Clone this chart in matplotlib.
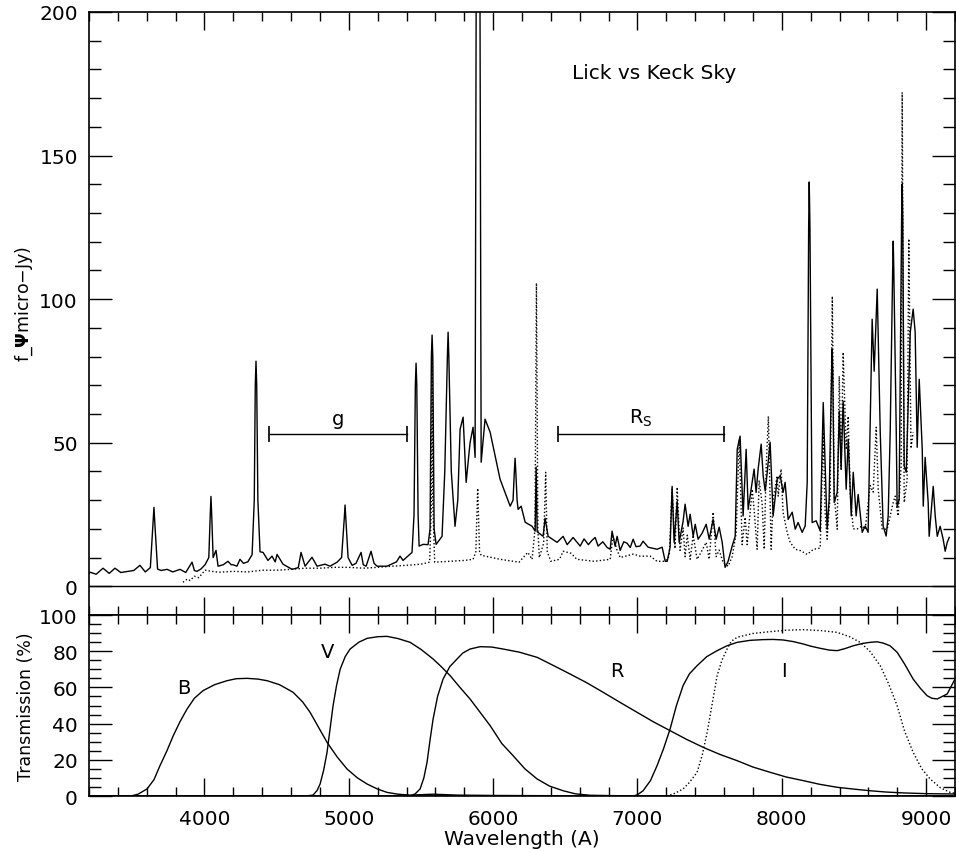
import numpy as np
from matplotlib import pyplot as plt
from matplotlib.ticker import MultipleLocator

plt.rcParams['font.family'] = ['DejaVu Sans']

# Lick sky spectrum (solid), wavelength in A, flux in micro-Jy
lick_wave = [3200, 3207, 3250, 3297, 3340, 3380, 3420, 3470, 3510, 3553, 3590, 3625, 3644, 3650,
             3656, 3675, 3700, 3741, 3780, 3831, 3870, 3914, 3930, 3948, 3975, 4004, 4030, 4040,
             4045, 4050, 4060, 4080, 4094, 4130, 4163, 4185, 4198, 4225, 4246, 4270, 4300, 4330,
             4345, 4352, 4357, 4362, 4370, 4385, 4406, 4440, 4468, 4490, 4503, 4544, 4607, 4650,
             4669, 4697, 4745, 4780, 4835, 4870, 4919, 4950, 4969, 4974, 4979, 4995, 5023, 5050,
             5085, 5100, 5120, 5154, 5175, 5196, 5265, 5330, 5355, 5376, 5438, 5452, 5461, 5466,
             5471, 5480, 5487, 5515, 5549, 5563, 5572, 5577, 5582, 5591, 5605, 5646, 5665, 5683,
             5688, 5693, 5710, 5736, 5755, 5771, 5792, 5813, 5840, 5861, 5875, 5885, 5906, 5917,
             5944, 5979, 6048, 6118, 6138, 6147, 6152, 6157, 6166, 6173, 6194, 6222, 6270, 6291,
             6298, 6305, 6346, 6360, 6381, 6443, 6485, 6513, 6554, 6603, 6630, 6660, 6685, 6707,
             6727, 6760, 6790, 6811, 6824, 6845, 6859, 6880, 6905, 6928, 6950, 6970, 6990, 7018,
             7039, 7074, 7136, 7171, 7192, 7206, 7226, 7240, 7254, 7275, 7289, 7316, 7330, 7351,
             7365, 7386, 7400, 7420, 7448, 7476, 7497, 7524, 7545, 7566, 7587, 7607, 7628, 7656,
             7677, 7691, 7711, 7732, 7753, 7767, 7795, 7808, 7822, 7836, 7857, 7871, 7885, 7899,
             7919, 7940, 7968, 7989, 8009, 8023, 8044, 8072, 8093, 8113, 8141, 8162, 8176, 8186,
             8190, 8195, 8210, 8238, 8266, 8287, 8314, 8328, 8345, 8349, 8353, 8363, 8384, 8398,
             8411, 8425, 8446, 8460, 8481, 8495, 8515, 8529, 8557, 8578, 8598, 8626, 8640, 8661,
             8682, 8702, 8723, 8737, 8751, 8768, 8772, 8776, 8793, 8799, 8813, 8830, 8834, 8838,
             8848, 8862, 8890, 8910, 8924, 8938, 8952, 8973, 8980, 8993, 9014, 9021, 9049, 9063,
             9077, 9097, 9118, 9132, 9146, 9160]
lick_flux = [4.5, 4.9, 4.2, 6.3, 4.5, 6.3, 4.8, 5.2, 5.5, 7.3, 5.0, 6.5, 22.0, 27.5,
             22.0, 6.0, 5.5, 5.9, 5.0, 5.9, 4.8, 8.4, 5.5, 5.2, 6.0, 7.5, 10.0, 25.0,
             31.3, 25.0, 10.0, 12.5, 7.0, 7.5, 8.7, 7.5, 7.5, 7.0, 9.4, 8.0, 8.5, 11.0,
             30.0, 70.0, 78.4, 70.0, 30.0, 12.0, 11.8, 9.0, 10.5, 8.5, 11.1, 7.7, 5.9, 6.5,
             11.8, 7.0, 10.1, 7.0, 7.7, 7.0, 8.4, 10.0, 24.0, 28.3, 24.0, 10.0, 7.3, 8.0,
             11.8, 7.5, 7.0, 12.2, 8.0, 7.0, 7.0, 8.5, 10.5, 9.0, 11.8, 25.0, 70.0, 77.7,
             70.0, 25.0, 14.0, 14.6, 14.5, 20.0, 80.0, 87.5, 80.0, 20.0, 14.6, 17.4, 40.0, 80.0,
             88.5, 80.0, 40.0, 20.9, 30.0, 54.7, 58.9, 36.2, 50.0, 55.4, 44.9, 260.0, 260.0, 43.2,
             58.2, 53.7, 37.3, 27.9, 30.0, 40.0, 44.6, 40.0, 30.0, 26.8, 27.9, 22.3, 20.9, 19.2,
             41.5, 19.0, 17.4, 23.7, 17.4, 15.3, 17.4, 14.5, 17.0, 14.0, 16.5, 14.5, 16.0, 17.0,
             14.0, 15.5, 13.5, 12.9, 19.2, 14.0, 17.4, 12.5, 15.5, 15.0, 13.5, 16.4, 13.8, 14.0,
             15.7, 13.6, 12.9, 13.6, 8.7, 8.7, 13.6, 34.8, 15.3, 29.6, 15.3, 22.6, 28.6, 20.9,
             25.1, 17.4, 21.6, 16.4, 18.5, 21.6, 16.4, 23.3, 16.4, 20.6, 15.3, 6.6, 8.7, 14.0,
             17.4, 47.7, 52.3, 24.5, 47.7, 26.8, 36.2, 40.8, 32.7, 40.8, 49.5, 38.4, 33.2, 39.7,
             50.2, 24.5, 37.3, 38.5, 32.7, 36.2, 23.3, 25.8, 19.9, 22.2, 18.8, 21.0, 36.2, 125.0,
             140.8, 125.0, 22.2, 22.8, 19.3, 64.0, 19.9, 30.3, 75.0, 82.6, 75.0, 29.2, 32.7, 61.0,
             40.8, 64.5, 33.8, 51.2, 24.5, 39.7, 24.5, 32.0, 18.8, 21.0, 18.8, 93.0, 74.9, 103.5,
             53.6, 21.0, 17.5, 24.5, 53.6, 110.0, 120.2, 110.0, 53.6, 27.5, 30.3, 128.0, 140.1, 128.0,
             41.9, 39.7, 88.5, 96.5, 88.5, 48.4, 72.1, 47.7, 27.9, 44.9, 29.3, 17.4, 34.8, 24.4,
             17.4, 20.9, 16.4, 12.2, 15.3, 17.0]

# Keck sky spectrum (dotted)
keck_wave = [3851, 3880, 3900, 3930, 3960, 4004, 4050, 4100, 4200, 4300, 4400, 4500, 4600, 4700,
             4800, 4900, 5000, 5100, 5200, 5300, 5400, 5500, 5560, 5573, 5577, 5581, 5595, 5700,
             5800, 5861, 5880, 5893, 5906, 5917, 6048, 6180, 6240, 6270, 6290, 6300, 6310, 6320,
             6350, 6364, 6375, 6400, 6460, 6485, 6540, 6580, 6700, 6811, 6830, 6859, 6880, 6970,
             7018, 7088, 7136, 7192, 7220, 7240, 7260, 7275, 7295, 7316, 7330, 7345, 7365, 7386,
             7413, 7440, 7476, 7497, 7524, 7545, 7566, 7594, 7628, 7656, 7684, 7705, 7725, 7746,
             7760, 7795, 7808, 7829, 7843, 7864, 7878, 7892, 7907, 7926, 7940, 7968, 7975, 7995,
             8009, 8037, 8058, 8093, 8130, 8176, 8220, 8266, 8287, 8300, 8314, 8335, 8350, 8363,
             8384, 8398, 8411, 8425, 8446, 8460, 8474, 8495, 8523, 8557, 8578, 8612, 8633, 8654,
             8668, 8696, 8730, 8772, 8786, 8806, 8827, 8834, 8848, 8868, 8880, 8895, 8910]
keck_flux = [1.4, 2.5, 2.0, 3.5, 3.0, 5.6, 5.2, 4.9, 5.2, 5.0, 5.6, 5.6, 5.9, 6.3,
             6.3, 6.6, 6.6, 6.3, 6.6, 7.0, 7.3, 7.7, 8.4, 30.0, 80.0, 30.0, 8.4, 8.7,
             9.0, 9.4, 12.0, 34.1, 12.0, 10.8, 9.4, 8.4, 11.8, 9.4, 20.0, 105.6, 20.0, 10.0,
             15.0, 39.7, 12.0, 8.7, 9.4, 12.2, 11.5, 9.4, 8.7, 9.4, 17.4, 12.5, 10.0, 11.2,
             10.5, 10.5, 8.7, 8.7, 10.5, 33.8, 13.1, 34.5, 12.5, 20.3, 10.3, 17.8, 9.4, 17.8,
             9.4, 11.8, 15.3, 9.4, 25.8, 10.3, 12.6, 8.2, 7.0, 10.3, 18.5, 51.2, 14.5, 24.0,
             14.5, 33.8, 26.8, 12.9, 36.9, 28.7, 12.9, 41.8, 59.2, 12.9, 30.3, 38.5, 31.4, 40.8,
             25.7, 18.8, 15.3, 12.9, 12.4, 11.1, 12.9, 13.3, 53.6, 25.7, 16.4, 32.1, 101.0, 32.1,
             19.9, 73.2, 40.8, 81.5, 47.6, 59.2, 32.1, 20.0, 20.0, 21.0, 19.9, 35.1, 32.8, 55.4,
             33.7, 19.9, 19.9, 29.2, 31.4, 24.5, 42.2, 172.0, 29.2, 36.9, 121.0, 48.0, 53.6]

# filter bandpass regions marked on the spectrum
band_names = ['g', r'R$_\mathrm{S}$']
band_lo = [4447, 6450]
band_hi = [5404, 7600]

# filter transmission curves (%)
B_wave = [3200, 3463, 3500, 3540, 3602, 3650, 3692, 3740, 3782, 3830, 3879, 3930, 3990, 4070,
          4156, 4220, 4295, 4370, 4434, 4520, 4614, 4680, 4732, 4790, 4849, 4920, 4988, 5060,
          5127, 5200, 5265, 5340, 5425, 5585, 5750, 6000, 6300, 6700, 7200, 8000, 9200]
B_trans = [0, 0, 0.2, 1.0, 3.9, 9.0, 16.8, 25.0, 33.0, 41.0, 48.0, 54.0, 58.2, 61.5,
           63.7, 64.8, 65.0, 64.6, 63.7, 61.5, 57.3, 52.0, 46.2, 38.0, 29.7, 21.5, 14.9, 10.0,
           6.6, 3.8, 2.0, 1.0, 0.5, 1.0, 0.5, 0.3, 0.2, 0.1, 0.1, 0, 0]
V_wave = [3200, 4700, 4752, 4780, 4801, 4825, 4849, 4870, 4891, 4915, 4940, 4975, 5009, 5070,
          5127, 5200, 5265, 5340, 5425, 5500, 5584, 5640, 5702, 5770, 5840, 5910, 5979, 6060,
          6138, 6220, 6305, 6390, 6485, 6570, 6672, 7000, 8000, 9200]
V_trans = [0, 0, 0.5, 3.0, 6.6, 14.0, 24.0, 37.0, 49.9, 61.0, 70.0, 77.0, 81.2, 85.0,
           87.1, 88.0, 88.2, 87.0, 84.9, 81.0, 75.7, 71.5, 66.5, 60.0, 53.6, 46.2, 38.9, 29.0,
           22.3, 15.0, 9.4, 5.5, 2.9, 1.2, 0.4, 0, 0, 0]
R_wave = [3200, 5425, 5460, 5494, 5520, 5542, 5563, 5584, 5615, 5653, 5700, 5750, 5790, 5840,
          5910, 5990, 6069, 6180, 6305, 6420, 6533, 6650, 6762, 6880, 6998, 7110, 7226, 7340,
          7455, 7570, 7691, 7800, 7919, 8030, 8148, 8260, 8384, 8500, 8612, 8720, 8841, 9000,
          9200]
R_trans = [0, 0, 1.2, 3.9, 10.0, 18.6, 31.0, 42.5, 55.0, 64.6, 71.5, 75.7, 79.0, 81.2,
           82.5, 82.3, 81.2, 79.5, 76.6, 72.0, 67.4, 62.5, 57.3, 51.7, 46.2, 41.0, 36.1, 31.3,
           26.9, 23.0, 19.5, 16.0, 13.1, 10.5, 8.5, 6.5, 4.8, 3.8, 2.9, 2.2, 1.7, 1.3,
           1.1]
I_wave = [3200, 6970, 7000, 7039, 7090, 7136, 7180, 7226, 7270, 7316, 7360, 7413, 7480, 7552,
          7620, 7691, 7780, 7871, 7940, 8009, 8080, 8148, 8200, 8266, 8330, 8384, 8440, 8495,
          8560, 8612, 8660, 8702, 8750, 8799, 8850, 8910, 8960, 9007, 9040, 9077, 9146, 9200]
I_trans = [0, 0, 0.7, 2.9, 8.5, 16.8, 26.0, 37.0, 50.0, 61.0, 67.5, 72.0, 77.0, 80.3,
           83.0, 84.9, 86.0, 86.4, 86.5, 86.2, 85.3, 84.0, 82.8, 81.6, 80.6, 80.3, 81.5, 83.0,
           84.3, 84.9, 85.2, 84.5, 83.0, 79.4, 73.0, 64.6, 59.5, 55.4, 54.0, 53.6, 56.4, 64.6]
I2_wave = [3200, 7206, 7260, 7316, 7360, 7413, 7450, 7483, 7520, 7552, 7585, 7621, 7650, 7691,
           7800, 7919, 8030, 8148, 8270, 8384, 8470, 8543, 8610, 8682, 8740, 8799, 8850, 8910,
           8970, 9028, 9100, 9167, 9200]
I2_trans = [0, 0, 1.5, 3.9, 7.5, 13.1, 23.0, 35.2, 52.0, 66.5, 75.0, 81.2, 85.5, 87.7,
            89.8, 90.8, 91.6, 91.9, 91.4, 90.4, 88.0, 84.9, 80.0, 72.0, 62.0, 49.9, 36.0, 24.1,
            15.0, 9.4, 4.5, 2.0, 1.5]

filter_names = ['B', 'V', 'R', 'I']
filter_label_x = [3858, 4856, 6859, 8017]
filter_label_y = [60, 80, 69.6, 69.6]

dotted = (0, (1, 1.6))

fig = plt.figure(figsize=(9.56, 8.53), dpi=100)
ax1 = fig.add_axes([0.0931, 0.27784, 0.90586, 0.70692])
ax2 = fig.add_axes([0.0931, 0.06565, 0.90586, 0.21219])

# --- sky spectra
ax1.plot(lick_wave, lick_flux, color='black', lw=1.0)
ax1.plot(keck_wave, keck_flux, color='black', lw=1.0, ls=dotted)
ax1.axhline(0, color='black', lw=1.0)

for name, lo, hi in zip(band_names, band_lo, band_hi):
    ax1.plot([lo, hi], [53, 53], color='black', lw=1.0, marker='|', markersize=12, mew=1.2)
    ax1.text((lo + hi) / 2, 55, name, ha='center', va='bottom', fontsize=14)

ax1.text(7115, 179, 'Lick vs Keck Sky', ha='center', va='center', fontsize=14.5)

ax1.set_xlim(3200, 9200)
ax1.set_ylim(-10, 200)
ax1.yaxis.set_major_locator(MultipleLocator(50))
ax1.yaxis.set_minor_locator(MultipleLocator(10))
ax1.set_ylabel(r'f_$\mathbf{\Psi}$micro−Jy)', fontsize=12.5)
ax1.yaxis.set_label_coords(-0.062, 0.517)

# --- filter transmission
ax2.plot(B_wave, B_trans, color='black', lw=1.0)
ax2.plot(V_wave, V_trans, color='black', lw=1.0)
ax2.plot(R_wave, R_trans, color='black', lw=1.0)
ax2.plot(I_wave, I_trans, color='black', lw=1.0)
ax2.plot(I2_wave, I2_trans, color='black', lw=1.0, ls=dotted)
for name, xx, yy in zip(filter_names, filter_label_x, filter_label_y):
    ax2.text(xx, yy, name, ha='center', va='center', fontsize=14)

ax2.set_xlim(3200, 9200)
ax2.set_ylim(0, 100)
ax2.yaxis.set_major_locator(MultipleLocator(20))
ax2.yaxis.set_minor_locator(MultipleLocator(5))
ax2.set_ylabel('Transmission (%)', fontsize=12.5)
ax2.yaxis.set_label_coords(-0.062, 0.5)
ax2.set_xlabel('Wavelength (A)', fontsize=14.5)
ax2.xaxis.set_label_coords(0.5, -0.185)

for ax in (ax1, ax2):
    ax.xaxis.set_major_locator(MultipleLocator(1000))
    ax.xaxis.set_minor_locator(MultipleLocator(200))
    ax.tick_params(which='both', direction='in', top=True, right=True, labelsize=14.5,
                   width=1.0, color='black')
    ax.tick_params(axis='x', which='major', length=13, pad=9)
    ax.tick_params(axis='x', which='minor', length=6.5)
    ax.tick_params(axis='y', which='major', length=16.5, pad=8)
    ax.tick_params(axis='y', which='minor', length=8.5)
    for sp in ax.spines.values():
        sp.set_linewidth(1.2)
ax1.tick_params(axis='x', labelbottom=False)

fig.savefig('out.png', dpi=100)
